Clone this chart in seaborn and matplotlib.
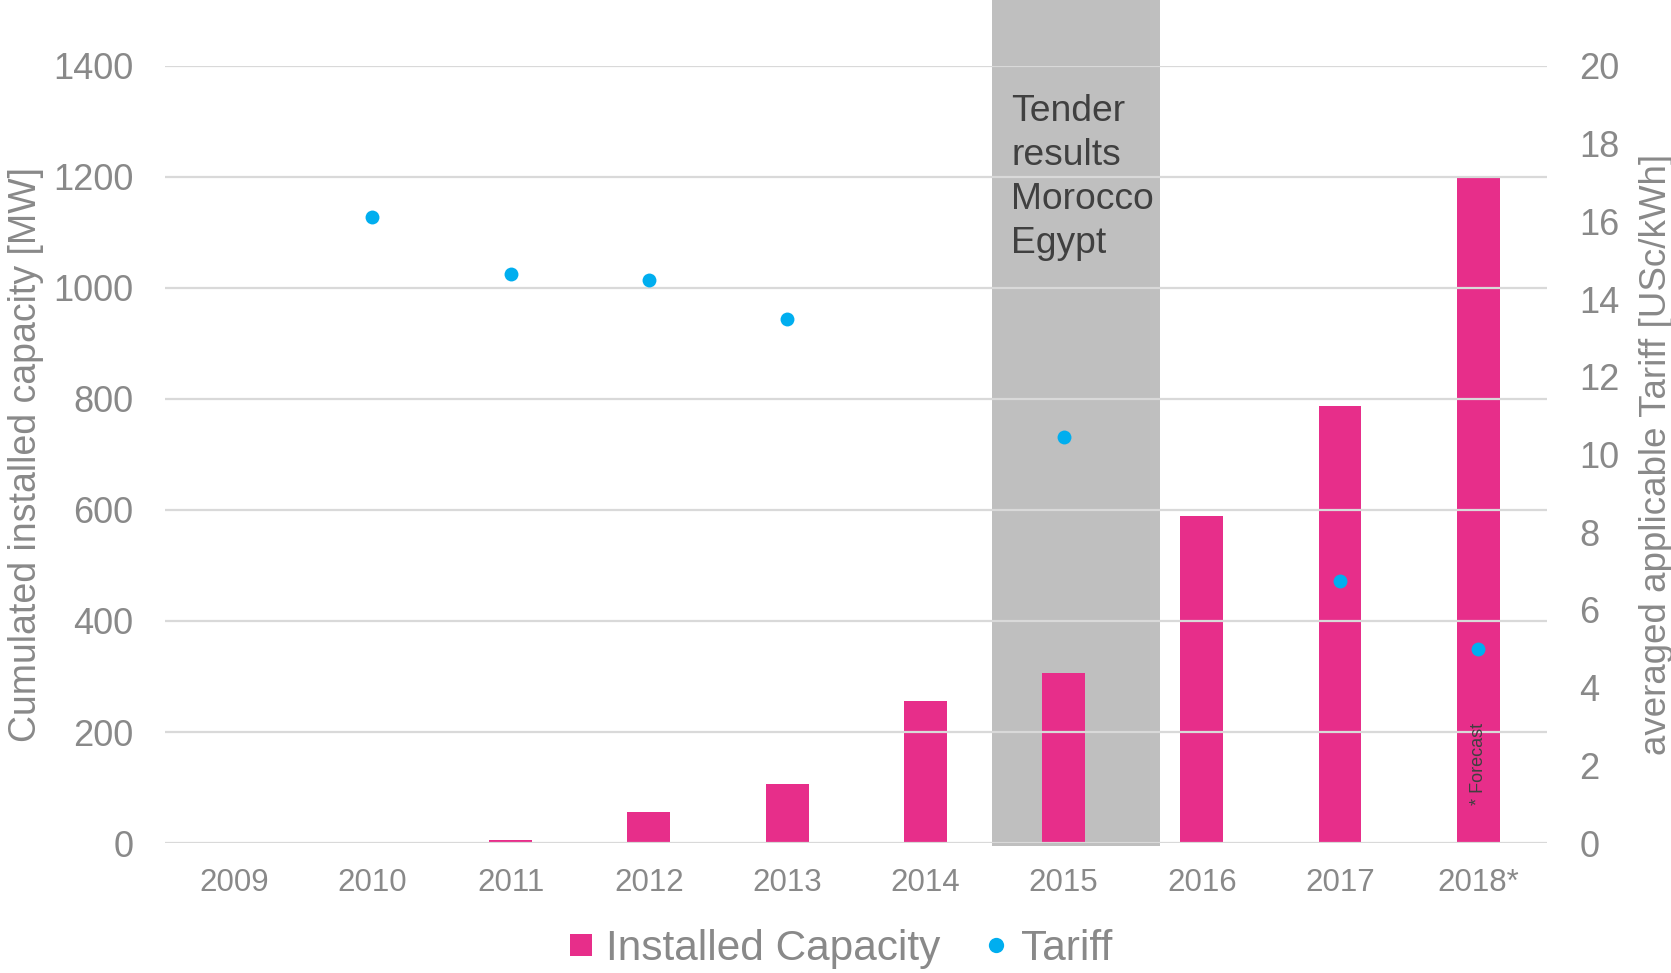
import numpy as np
import pandas as pd
import matplotlib
matplotlib.use("Agg")
import matplotlib.pyplot as plt
from matplotlib.lines import Line2D
import seaborn as sns

years = ["2009", "2010", "2011", "2012", "2013", "2014", "2015", "2016", "2017", "2018*"]
capacity = [0, 0, 6, 56, 106, 255, 307, 590, 788, 1200]
tariff = [np.nan, 16.1, 14.65, 14.5, 13.5, np.nan, 10.45, np.nan, 6.75, 5.0]

left_ticks = [0, 200, 400, 600, 800, 1000, 1200, 1400]
right_ticks = [0, 2, 4, 6, 8, 10, 12, 14, 16, 18, 20]

MAGENTA = "#E72E8A"
CYAN = "#00AEEF"
SHADE = "#BFBFBF"
GRID = "#D9D9D9"
TXT = "#898989"
DARK = "#404040"

sns.set_style("white")
plt.rcParams["font.family"] = ["Liberation Sans", "DejaVu Sans"]

df = pd.DataFrame({"year": years, "capacity": capacity, "tariff": tariff})

fig = plt.figure(figsize=(16.71, 9.73), dpi=100)
ax = fig.add_axes([0.0988, 0.1336, 0.8272, 0.7986])

sns.barplot(data=df, x="year", y="capacity", order=years, color=MAGENTA,
            saturation=1, width=0.31, linewidth=0, ax=ax, zorder=2)

ax.axvspan(5.48, 6.70, ymin=-0.004, ymax=1.086, color=SHADE, zorder=0,
           clip_on=False, lw=0)

ax.set_ylim(0, 1400)
ax.set_xlim(-0.5, 9.5)
ax.set_yticks(left_ticks)
ax.yaxis.grid(True, color=GRID, lw=1.6, zorder=1)
ax.set_axisbelow(False)
for gl in ax.get_ygridlines():
    gl.set_zorder(1)
for s in ax.spines.values():
    s.set_visible(False)
ax.tick_params(axis="y", length=0, pad=23, labelsize=26, labelcolor=TXT)
ax.tick_params(axis="x", length=0, pad=18, labelsize=22.5, labelcolor=TXT)
ax.set_xlabel("")
ax.set_ylabel("Cumulated installed capacity [MW]", fontsize=27, color=TXT, labelpad=6)

ax2 = ax.twinx()
sns.pointplot(data=df.dropna(), x="year", y="tariff", order=years, color=CYAN,
              linestyle="none", markers="o", errorbar=None, ax=ax2,
              markersize=10, markeredgewidth=0)
ax2.set_ylim(0, 20)
ax2.set_xlim(-0.5, 9.5)
ax2.set_yticks(right_ticks)
for s in ax2.spines.values():
    s.set_visible(False)
ax2.tick_params(axis="y", length=0, pad=23, labelsize=26, labelcolor=TXT)
ax2.set_ylabel("averaged applicable Tariff [USc/kWh]", fontsize=26.5, color=TXT, labelpad=14)
ax2.set_xlabel("")
ax2.grid(False)

ax.text(5.62, 1350, "Tender\nresults\nMorocco\nEgypt", fontsize=26.8, color=DARK,
        ha="left", va="top", linespacing=1.34, zorder=5)
ax.text(9.0, 142, "* Forecast", fontsize=13, color=DARK, rotation=90,
        ha="center", va="center", zorder=5)

handles = [
    Line2D([], [], marker="s", linestyle="none", color=MAGENTA, markersize=16, markeredgewidth=0),
    Line2D([], [], marker="o", linestyle="none", color=CYAN, markersize=11, markeredgewidth=0),
]
leg = fig.legend(handles, ["Installed Capacity", "Tariff"], loc="center",
                 bbox_to_anchor=(0.503, 0.0245), ncol=2, frameon=False,
                 fontsize=30.5, handlelength=0.6, handletextpad=0.3,
                 columnspacing=1.0, labelcolor=TXT)

fig.savefig("out.png", dpi=100)
